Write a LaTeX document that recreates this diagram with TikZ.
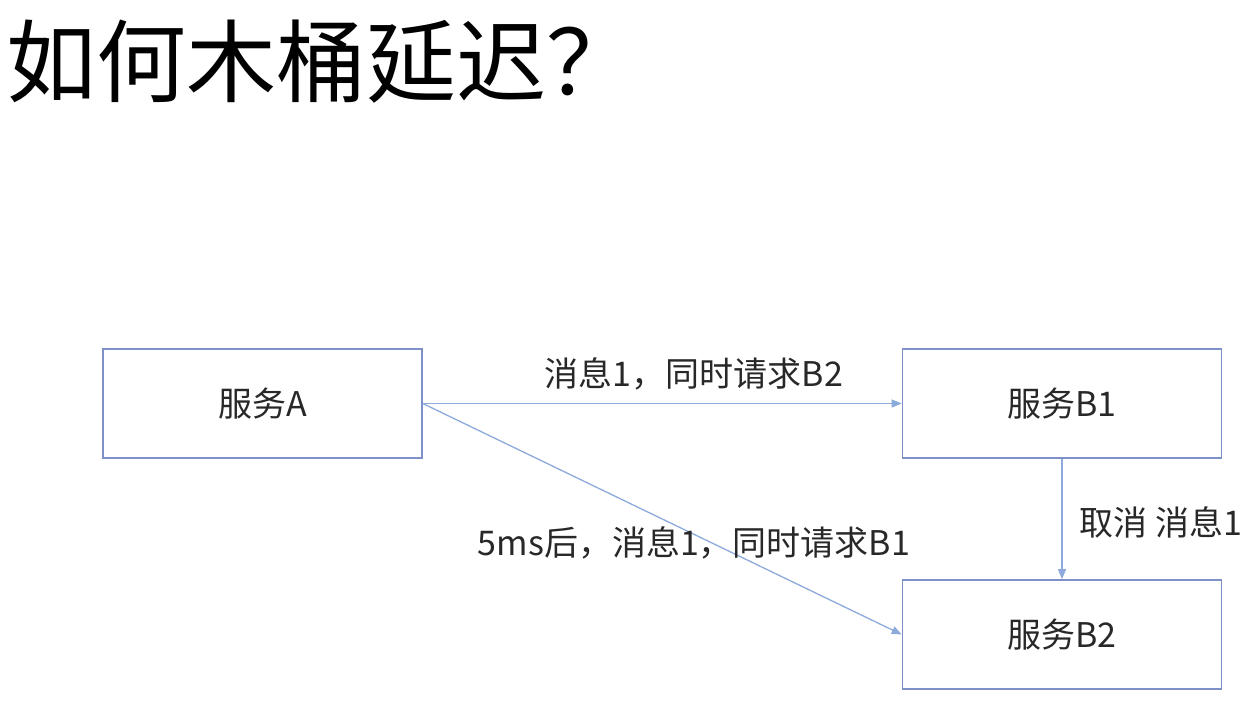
\documentclass[tikz,border=0pt]{standalone}
\usepackage{fontspec}
\setmainfont{Noto Sans CJK SC}
\usetikzlibrary{arrows.meta}
\definecolor{boxc}{RGB}{125,145,200}
\definecolor{linec}{RGB}{140,170,220}
\definecolor{txt}{RGB}{40,40,40}
\tikzset{
  svc/.style={draw=boxc, line width=1.6pt, minimum width=319pt, minimum height=109pt, inner sep=0pt, text=txt, font=\fontsize{34}{36}\selectfont},
  conn/.style={draw=linec, line width=1.3pt, -{Triangle[length=10pt,width=8pt]}},
  lbl/.style={text=txt, font=\fontsize{34}{36}\selectfont, inner sep=0pt}
}
\begin{document}
\begin{tikzpicture}[x=1pt,y=-1pt]
\useasboundingbox (0,0) rectangle (1258,714);
\node[anchor=west, inner sep=0pt, text=black, font=\fontsize{90}{94}\selectfont] (title) at (6,62) {如何木桶延迟？};
\node[svc] (A) at (262.5,403.5) {服务A};
\node[svc] (B1) at (1062,403.5) {服务B1};
\node[svc] (B2) at (1062,634.5) {服务B2};
\draw[conn] (A.east) -- (B1.west);
\draw[conn] (A.east) -- (B2.west);
\draw[conn] (B1.south) -- (B2.north);
\node[lbl] (l1) at (694,374) {消息1，同时请求B2};
\node[lbl] (l2) at (694,543) {5ms后，消息1，同时请求B1};
\node[lbl] (l3) at (1161,522) {取消 消息1};
\end{tikzpicture}
\end{document}
